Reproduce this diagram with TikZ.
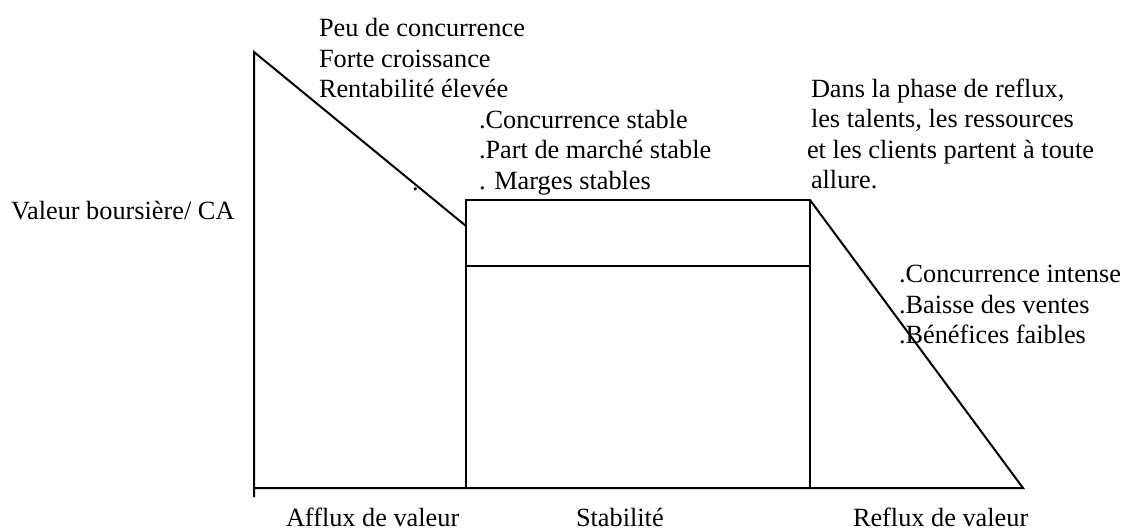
\documentclass[tikz,border=0pt]{standalone}
\usepackage{fontspec}
\setmainfont{Liberation Serif}
\begin{document}
\begin{tikzpicture}[x=1pt,y=-1pt,line width=2pt,
  txt/.style={font=\fontsize{26.3}{30.5}\selectfont, inner sep=0pt, anchor=base west}]
\useasboundingbox (0,0) rectangle (1125,530);
% geometry
\coordinate (top) at (254,52);
\coordinate (o) at (254,488);
\coordinate (tick) at (254,497);
\coordinate (a) at (466,226);
\coordinate (rtl) at (466,200);
\coordinate (rtr) at (810,200);
\coordinate (rbl) at (466,488);
\coordinate (ml) at (466,266);
\coordinate (mr) at (810,266);
\coordinate (end) at (1023,488);
\draw (tick) -- (top) -- (a);
\draw (rbl) rectangle (rtr);
\draw (ml) -- (mr);
\draw (o) -- (end) -- (rtr);
% texts
\node[txt] (p1) at (318,36) {Peu de concurrence};
\node[txt] (p2) at (318,67) {Forte croissance};
\node[txt] (p3) at (318,97) {Rentabilité élevée};
\node[txt] (s1) at (478,128) {.Concurrence stable};
\node[txt] (s2) at (478,158) {.Part de marché stable};
\node[txt] (s3) at (478,189) {. Marges stables};
\node[txt] (dot) at (411,190) {.};
\node[txt] (r1) at (810,97) {Dans la phase de reflux,};
\node[txt] (r2) at (810,127) {les talents, les ressources};
\node[txt] (r3) at (806,158) {et les clients partent à toute};
\node[txt] (r4) at (810,188) {allure.};
\node[txt] (c1) at (898,282) {.Concurrence intense};
\node[txt] (c2) at (898,313) {.Baisse des ventes};
\node[txt] (c3) at (898,343) {.Bénéfices faibles};
\node[txt] (y) at (10,219) {Valeur boursière/ CA};
\node[txt] (x1) at (285,526) {Afflux de valeur};
\node[txt] (x2) at (575,526) {Stabilité};
\node[txt] (x3) at (852,526) {Reflux de valeur};
\end{tikzpicture}
\end{document}
